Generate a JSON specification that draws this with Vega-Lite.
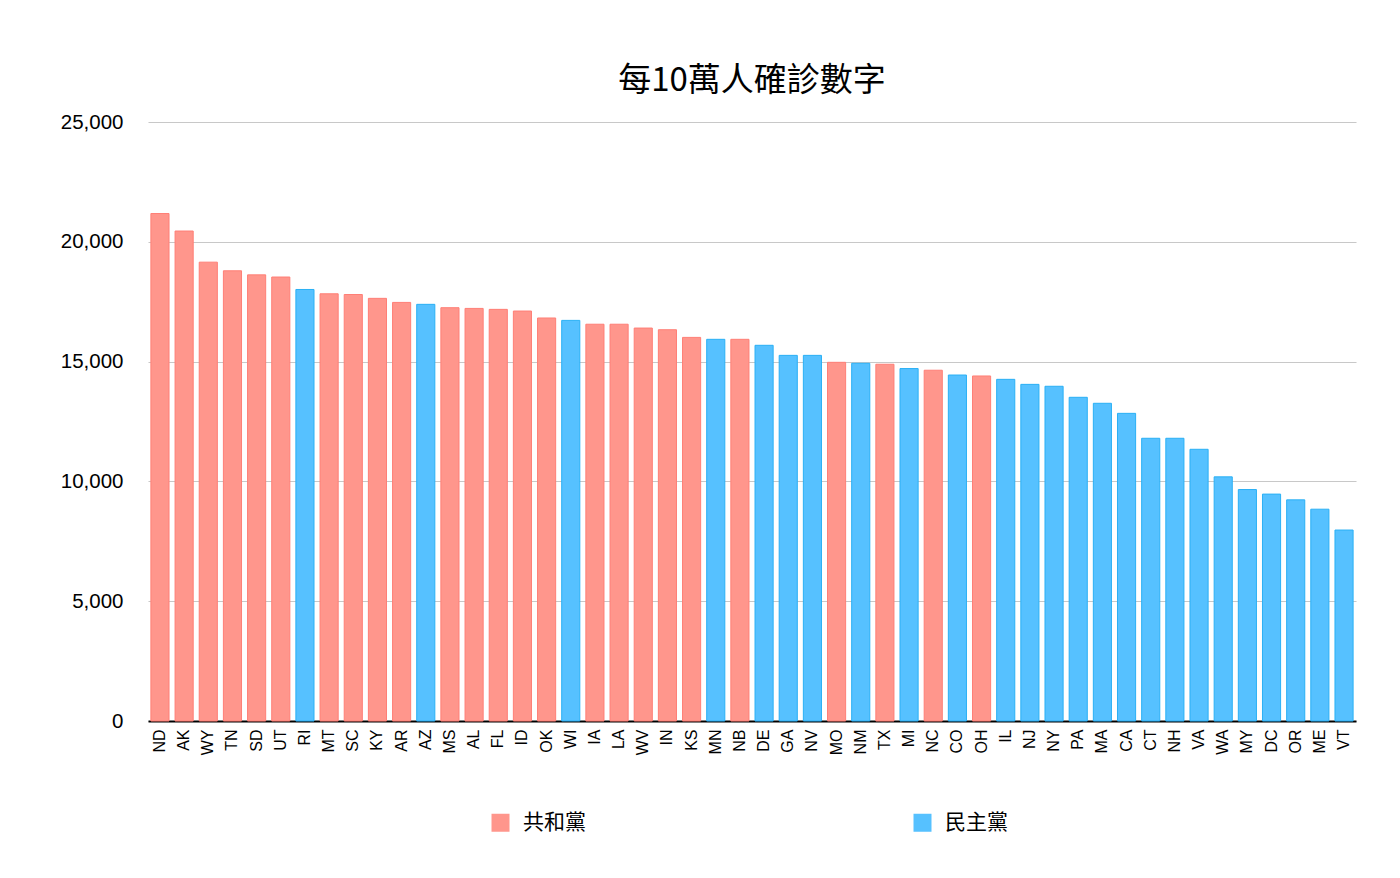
{
  "$schema": "https://vega.github.io/schema/vega-lite/v6.json",
  "autosize": {"type": "none"},
  "width": 1208,
  "height": 599,
  "padding": {"left": 148, "top": 122, "right": 44, "bottom": 157},
  "background": "white",
  "title": {
    "text": "每10萬人確診數字",
    "font": "Noto Sans CJK TC",
    "fontSize": 33,
    "fontWeight": "normal",
    "color": "#000000",
    "anchor": "middle",
    "offset": 14
  },
  "data": {
    "values": [
      {"state": "ND", "cases": 21180, "party": "共和黨"},
      {"state": "AK", "cases": 20450, "party": "共和黨"},
      {"state": "WY", "cases": 19150, "party": "共和黨"},
      {"state": "TN", "cases": 18790, "party": "共和黨"},
      {"state": "SD", "cases": 18620, "party": "共和黨"},
      {"state": "UT", "cases": 18530, "party": "共和黨"},
      {"state": "RI", "cases": 18010, "party": "民主黨"},
      {"state": "MT", "cases": 17830, "party": "共和黨"},
      {"state": "SC", "cases": 17800, "party": "共和黨"},
      {"state": "KY", "cases": 17640, "party": "共和黨"},
      {"state": "AR", "cases": 17470, "party": "共和黨"},
      {"state": "AZ", "cases": 17390, "party": "民主黨"},
      {"state": "MS", "cases": 17250, "party": "共和黨"},
      {"state": "AL", "cases": 17220, "party": "共和黨"},
      {"state": "FL", "cases": 17180, "party": "共和黨"},
      {"state": "ID", "cases": 17110, "party": "共和黨"},
      {"state": "OK", "cases": 16820, "party": "共和黨"},
      {"state": "WI", "cases": 16720, "party": "民主黨"},
      {"state": "IA", "cases": 16560, "party": "共和黨"},
      {"state": "LA", "cases": 16560, "party": "共和黨"},
      {"state": "WV", "cases": 16400, "party": "共和黨"},
      {"state": "IN", "cases": 16330, "party": "共和黨"},
      {"state": "KS", "cases": 16010, "party": "共和黨"},
      {"state": "MN", "cases": 15930, "party": "民主黨"},
      {"state": "NB", "cases": 15930, "party": "共和黨"},
      {"state": "DE", "cases": 15680, "party": "民主黨"},
      {"state": "GA", "cases": 15260, "party": "民主黨"},
      {"state": "NV", "cases": 15260, "party": "民主黨"},
      {"state": "MO", "cases": 14970, "party": "共和黨"},
      {"state": "NM", "cases": 14930, "party": "民主黨"},
      {"state": "TX", "cases": 14890, "party": "共和黨"},
      {"state": "MI", "cases": 14710, "party": "民主黨"},
      {"state": "NC", "cases": 14640, "party": "共和黨"},
      {"state": "CO", "cases": 14440, "party": "民主黨"},
      {"state": "OH", "cases": 14400, "party": "共和黨"},
      {"state": "IL", "cases": 14260, "party": "民主黨"},
      {"state": "NJ", "cases": 14050, "party": "民主黨"},
      {"state": "NY", "cases": 13970, "party": "民主黨"},
      {"state": "PA", "cases": 13510, "party": "民主黨"},
      {"state": "MA", "cases": 13260, "party": "民主黨"},
      {"state": "CA", "cases": 12840, "party": "民主黨"},
      {"state": "CT", "cases": 11800, "party": "民主黨"},
      {"state": "NH", "cases": 11800, "party": "民主黨"},
      {"state": "VA", "cases": 11340, "party": "民主黨"},
      {"state": "WA", "cases": 10190, "party": "民主黨"},
      {"state": "MY", "cases": 9660, "party": "民主黨"},
      {"state": "DC", "cases": 9470, "party": "民主黨"},
      {"state": "OR", "cases": 9230, "party": "民主黨"},
      {"state": "ME", "cases": 8840, "party": "民主黨"},
      {"state": "VT", "cases": 7970, "party": "民主黨"}
    ]
  },
  "mark": {"type": "bar", "strokeWidth": 1},
  "encoding": {
    "x": {
      "field": "state",
      "type": "nominal",
      "sort": null,
      "scale": {"paddingInner": 0.25, "paddingOuter": 0.12},
      "axis": {
        "title": null,
        "labelAngle": -90,
        "labelAlign": "right",
        "labelBaseline": "middle",
        "labelFont": "Liberation Sans",
        "labelFontSize": 16,
        "labelColor": "#000000",
        "labelPadding": 8,
        "ticks": false,
        "domainColor": "#000000",
        "domainWidth": 2
      }
    },
    "y": {
      "field": "cases",
      "type": "quantitative",
      "scale": {"domain": [0, 25000]},
      "axis": {
        "title": null,
        "values": [0, 5000, 10000, 15000, 20000, 25000],
        "format": ",.0f",
        "labelFont": "Liberation Sans",
        "labelFontSize": 20.5,
        "labelColor": "#000000",
        "labelPadding": 25,
        "ticks": false,
        "domain": false,
        "gridColor": "#C8C8C8",
        "gridWidth": 1.2
      }
    },
    "color": {
      "field": "party",
      "type": "nominal",
      "scale": {"domain": ["共和黨", "民主黨"], "range": ["#FF968C", "#56C1FF"]},
      "legend": {
        "title": null,
        "orient": "none",
        "legendX": 342,
        "legendY": 690,
        "direction": "horizontal",
        "columns": 2,
        "columnPadding": 326,
        "symbolType": "square",
        "symbolSize": 324,
        "symbolStrokeWidth": 0,
        "labelFont": "Noto Sans CJK TC",
        "labelFontSize": 21,
        "labelColor": "#000000",
        "labelOffset": 12
      }
    },
    "stroke": {
      "field": "party",
      "type": "nominal",
      "scale": {"domain": ["共和黨", "民主黨"], "range": ["#FF7F76", "#2AB0F5"]},
      "legend": null
    }
  },
  "config": {
    "view": {"stroke": null}
  }
}
